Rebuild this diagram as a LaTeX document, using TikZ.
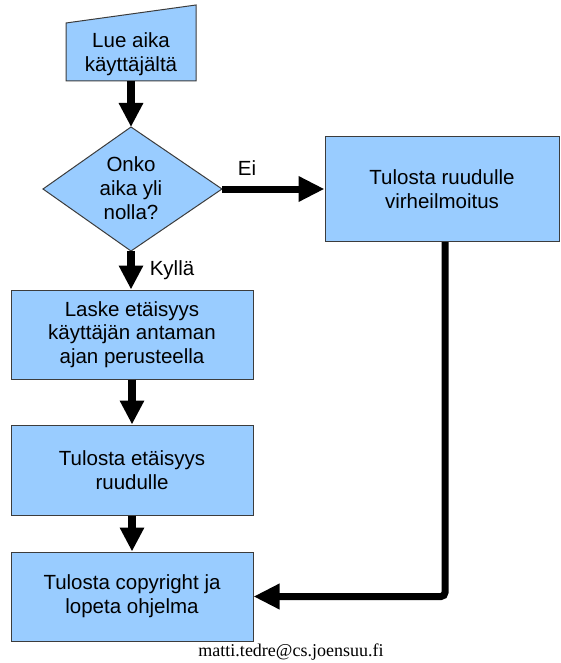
\documentclass[tikz,border=0pt]{standalone}
\usepackage{fontspec}
\setmainfont{Liberation Sans}
\newfontfamily\emailfont{Liberation Serif}
\usetikzlibrary{arrows.meta}
\definecolor{boxfill}{HTML}{99CCFF}
\definecolor{boxline}{HTML}{3C3C3C}
\begin{document}
\begin{tikzpicture}[x=1pt,y=-1pt,
  shapeline/.style={draw=boxline, fill=boxfill, line width=1pt},
  flowbox/.style={shapeline, align=center, inner sep=0pt,
    font=\fontsize{20.5}{23.7}\selectfont},
  txt/.style={align=center, inner sep=0pt, font=\fontsize{20.5}{23.7}\selectfont},
  flowarrow/.style={line width=8pt, -{Triangle[length=24pt,width=23pt]}},
  sidearrow/.style={line width=7pt, -{Triangle[length=26pt,width=24pt]}}
]
\useasboundingbox (0,0) rectangle (560,663);

% input (manual input shape)
\filldraw[shapeline] (66,23) -- (196,5) -- (196,81) -- (66,81) -- cycle;
\node[txt] (lue) at (131,54) {Lue aika\\käyttäjältä};
\coordinate (inbot) at (131,81);

% decision diamond
\filldraw[shapeline] (131,127) -- (222,189) -- (131,251) -- (43,189) -- cycle;
\node[txt] (onko) at (131,188) {Onko\\aika yli\\nolla?};
\coordinate (dtop) at (131,127);
\coordinate (dright) at (222,189);
\coordinate (dbot) at (131,251);

% boxes
\node[flowbox, minimum width=234pt, minimum height=105pt] (err) at (442,189) {Tulosta ruudulle\\virheilmoitus};
\node[flowbox, minimum width=242pt, minimum height=89pt] (laske) at (132,334.5) {Laske etäisyys\\käyttäjän antaman\\ajan perusteella};
\node[flowbox, minimum width=242pt, minimum height=90pt] (tulosta) at (132,470) {Tulosta etäisyys\\ruudulle};
\node[flowbox, minimum width=242pt, minimum height=89pt] (loppu) at (132,596.5) {Tulosta copyright ja\\lopeta ohjelma};

% labels
\node[txt] (ei) at (247,168) {Ei};
\node[txt] (kylla) at (172,270) {Kyllä};

% connectors
\draw[flowarrow] (inbot) -- (dtop);
\draw[sidearrow] (dright) -- (err.west);
\draw[flowarrow] (dbot) -- (dbot |- laske.north);
\draw[flowarrow] (laske.south) -- (tulosta.north);
\draw[flowarrow] (tulosta.south) -- (loppu.north);
\coordinate (errout) at (445,242);
\draw[sidearrow, rounded corners=4pt] (errout) |- (loppu.east);

% footer
\node[inner sep=0pt, font=\emailfont\fontsize{18}{20}\selectfont] (mail) at (291,652) {matti.tedre@cs.joensuu.fi};
\end{tikzpicture}
\end{document}
